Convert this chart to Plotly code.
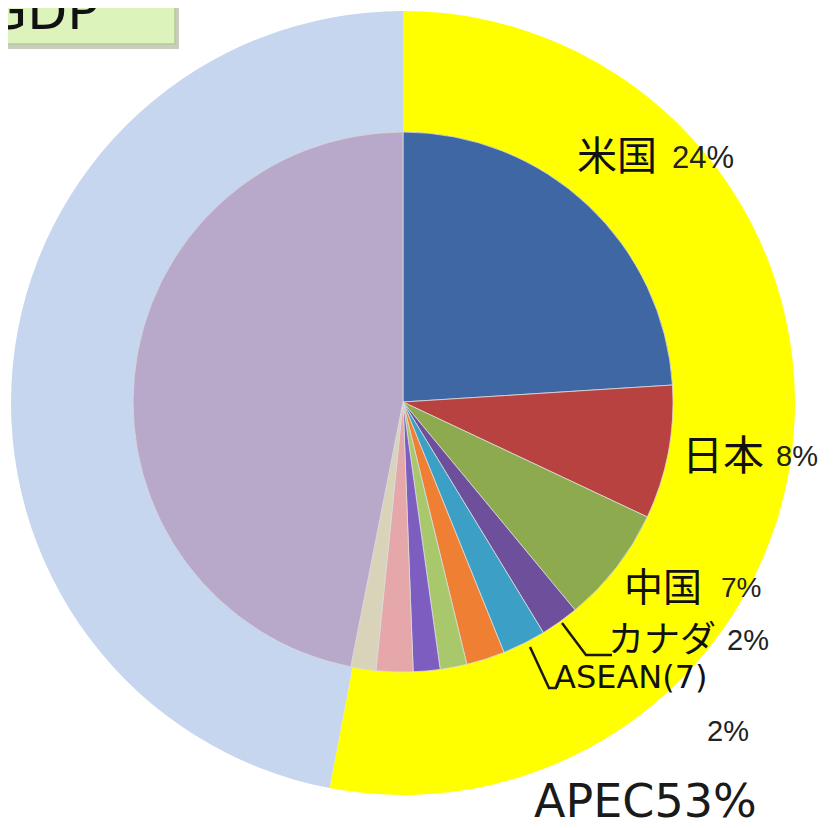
import plotly.graph_objects as go

W, H = 833, 828
OFF = 8  # page body margin

# ---- data ----
outer_labels = ["APEC", "非APEC"]
outer_values = [53, 47]
outer_colors = ["#FFFF00", "#C6D6EE"]

inner_labels = ["米国", "日本", "中国", "カナダ", "ASEAN(7)",
                "APEC他1", "APEC他2", "APEC他3", "APEC他4", "APEC他5", "その他"]
inner_values = [24, 8, 7, 2.3, 2.6, 2.3, 1.6, 1.6, 2.2, 1.5, 46.9]
inner_colors = ["#3F67A3", "#B8423F", "#8DAA4F", "#6E4F9C", "#3C9FC6",
                "#EE7F33", "#A9C86B", "#7D5EC0", "#E5A7A9", "#D8D3B9", "#B8A9CA"]

label_names = ["米国", "日本", "中国", "カナダ"]
label_pcts = ["24%", "8%", "7%", "2%"]
asean_name = "ASEAN(7)"
asean_pct = "2%"
apec_text = "APEC53%"
title_text = "GDP"


def px(x):
    return (x - OFF) / W


def py(y):
    return 1 - (y - OFF) / H


fig = go.Figure()
fig.add_trace(go.Pie(
    labels=outer_labels, values=outer_values, sort=False, direction="clockwise",
    rotation=0, hole=0.68, textinfo="none", hoverinfo="skip", showlegend=False,
    marker=dict(colors=outer_colors, line=dict(width=0)),
    domain=dict(x=[px(11), px(795)], y=[py(795), py(11)]),
))
fig.add_trace(go.Pie(
    labels=inner_labels, values=inner_values, sort=False, direction="clockwise",
    rotation=0, textinfo="none", hoverinfo="skip", showlegend=False,
    marker=dict(colors=inner_colors, line=dict(width=0.8, color="#DADADA")),
    domain=dict(x=[px(133), px(673)], y=[py(672), py(132)]),
))

cjk = "Noto Sans CJK JP"
lat = "DejaVu Sans"
pctfont = "Liberation Sans Narrow, Liberation Sans"
ann = []


def add(text, x, y, size, family, xanchor="left", color="#111111"):
    ann.append(dict(text=text, x=px(x), y=py(y), xref="paper", yref="paper",
                    xanchor=xanchor, yanchor="middle", showarrow=False,
                    font=dict(size=size, family=family, color=color)))


# country labels
name_pos = [(575, 153, 40), (680, 452, 41), (622, 584, 39), (606, 636, 36)]
pct_pos = [(670, 157, 31), (774, 456, 29), (719, 587, 28), (725, 640, 29)]
for n, p, (nx, ny, ns), (qx, qy, qs) in zip(label_names, label_pcts, name_pos, pct_pos):
    add(n, nx, ny, ns, cjk)
    add(p, qx, qy, qs, pctfont, color="#222222")
add(asean_name, 552, 677, 32, lat)
add(asean_pct, 705, 731, 29, pctfont, color="#222222")
add(apec_text, 532, 801, 46, lat, color="#1A1A1A")

# GDP box
add(title_text, 101, 11, 52, lat, xanchor="right", color="#111111")

shapes = [
    dict(type="rect", xref="paper", yref="paper", layer="below",
         x0=px(-5), x1=px(179), y0=py(49), y1=py(-20),
         fillcolor="#C9CDBE", line=dict(width=0)),
    dict(type="rect", xref="paper", yref="paper", layer="below",
         x0=px(-5), x1=px(175), y0=py(44), y1=py(-20),
         fillcolor="#DDF3BC", line=dict(width=1.5, color="#B5C99A")),
    # leader lines
    dict(type="path", xref="paper", yref="paper",
         path=f"M {px(562)} {py(623)} L {px(586)} {py(655)} L {px(612)} {py(655)}",
         line=dict(color="#1A1A1A", width=2.5)),
    dict(type="path", xref="paper", yref="paper",
         path=f"M {px(530)} {py(647)} L {px(549)} {py(688)} L {px(557)} {py(688)}",
         line=dict(color="#1A1A1A", width=2.5)),
]

fig.update_layout(
    width=W, height=H, margin=dict(l=0, r=0, t=0, b=0),
    paper_bgcolor="white", plot_bgcolor="white",
    annotations=ann, shapes=shapes,
)

fig.write_html("out.html")
